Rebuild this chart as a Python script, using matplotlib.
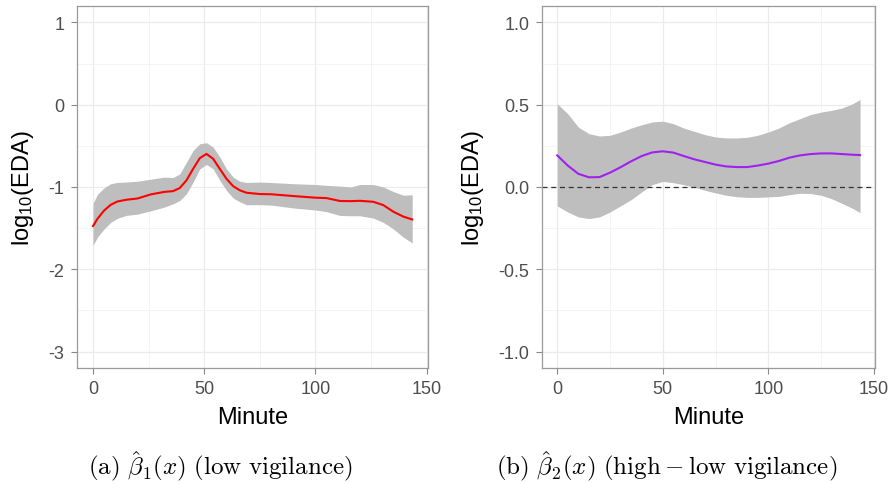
import matplotlib
matplotlib.use("Agg")
import matplotlib.pyplot as plt

plt.rcParams['font.family'] = ['Liberation Sans', 'DejaVu Sans']
plt.rcParams['mathtext.fontset'] = 'cm'

# beta1: low vigilance
minute_a = [0, 2, 5, 8, 11, 15, 20, 26, 32, 36, 39, 42, 45, 48, 51, 54, 57, 60, 63, 66, 69,
            75, 80, 90, 100, 105, 111, 116, 120, 126, 130.5, 135, 139.5, 143.5]
beta1 = [-1.475, -1.387, -1.286, -1.216, -1.176, -1.155, -1.14, -1.09, -1.06, -1.05, -1.013,
         -0.92, -0.78, -0.65, -0.598, -0.657, -0.78, -0.90, -0.99, -1.04, -1.07,
         -1.086, -1.088, -1.11, -1.13, -1.135, -1.17, -1.172, -1.168, -1.18, -1.22, -1.30,
         -1.36, -1.395]
beta1_hi = [-1.20, -1.09, -1.01, -0.96, -0.945, -0.94, -0.93, -0.905, -0.88, -0.885, -0.84,
            -0.70, -0.556, -0.475, -0.462, -0.515, -0.636, -0.78, -0.88, -0.93, -0.945,
            -0.94, -0.945, -0.96, -0.97, -0.98, -0.99, -1.0, -0.97, -0.97, -1.0, -1.055,
            -1.10, -1.095]
beta1_lo = [-1.71, -1.61, -1.51, -1.43, -1.38, -1.345, -1.33, -1.29, -1.245, -1.205, -1.164,
            -1.083, -0.94, -0.78, -0.726, -0.78, -0.92, -1.04, -1.135, -1.18, -1.216,
            -1.215, -1.22, -1.255, -1.28, -1.30, -1.346, -1.35, -1.35, -1.378, -1.43, -1.51,
            -1.61, -1.68]

# beta2: high - low vigilance
minute_b = [0, 5, 10, 15, 20, 25, 30, 35, 40, 45, 50, 55, 60, 65, 70, 75, 80, 85, 90,
            95, 100, 105, 110, 115, 120, 125, 130, 135, 140, 143.5]
beta2 = [0.192, 0.13, 0.08, 0.059, 0.06, 0.087, 0.12, 0.156, 0.188, 0.21, 0.217, 0.209,
         0.188, 0.168, 0.152, 0.136, 0.125, 0.121, 0.121, 0.13, 0.142, 0.158, 0.178, 0.192,
         0.20, 0.204, 0.204, 0.20, 0.196, 0.194]
beta2_hi = [0.506, 0.445, 0.364, 0.324, 0.31, 0.314, 0.334, 0.358, 0.378, 0.395, 0.40, 0.385,
            0.358, 0.338, 0.318, 0.304, 0.298, 0.298, 0.302, 0.314, 0.334, 0.358, 0.39, 0.415,
            0.44, 0.455, 0.466, 0.48, 0.506, 0.532]
beta2_lo = [-0.115, -0.152, -0.182, -0.192, -0.182, -0.152, -0.115, -0.077, -0.03, 0.014, 0.034, 0.026,
            0.014, -0.002, -0.02, -0.036, -0.05, -0.059, -0.063, -0.063, -0.06, -0.057, -0.047, -0.038,
            -0.04, -0.05, -0.071, -0.10, -0.13, -0.156]

xticks = [0, 50, 100, 150]
yticks1 = [1, 0, -1, -2, -3]
yticks2 = [1.0, 0.5, 0.0, -0.5, -1.0]


def style_panel(ax, ylim, yticks, ylabels):
    ax.set_xticks(xticks)
    ax.set_yticks(yticks)
    ax.set_yticklabels(ylabels)
    step = yticks[0] - yticks[1]
    ax.set_xticks([25, 75, 125], minor=True)
    ax.set_yticks([t + step / 2 for t in yticks[1:]], minor=True)
    ax.set_xlim(-7.2, 150.6)
    ax.set_ylim(*ylim)
    ax.grid(which='major', color='#EBEBEB', linewidth=0.9)
    ax.grid(which='minor', color='#F2F2F2', linewidth=0.6)
    ax.set_axisbelow(True)
    ax.tick_params(which='major', direction='out', length=4, color='#888888',
                   labelsize=13, labelcolor='#4D4D4D', pad=5)
    ax.tick_params(which='minor', length=0)
    for side in ax.spines.values():
        side.set_color('#999999')
        side.set_linewidth(0.9)
    ax.set_xlabel('Minute', fontsize=17, labelpad=6)
    ax.set_ylabel(r'$\mathregular{log_{10}(EDA)}$', fontsize=17, labelpad=9)


fig = plt.figure(figsize=(8.93, 4.85), dpi=100)
ax1 = fig.add_axes([0.0862, 0.2392, 0.3931, 0.7464])
ax2 = fig.add_axes([0.607, 0.2392, 0.3729, 0.7464])

ax1.fill_between(minute_a, beta1_lo, beta1_hi, color='#BEBEBE', linewidth=0)
ax1.plot(minute_a, beta1, color='#FF0000', linewidth=1.5)
style_panel(ax1, (-3.2, 1.2), yticks1, ['1', '0', '-1', '-2', '-3'])

ax2.fill_between(minute_b, beta2_lo, beta2_hi, color='#BEBEBE', linewidth=0)
ax2.axhline(0, color='#333333', linestyle=(0, (4, 3)), linewidth=0.9)
ax2.plot(minute_b, beta2, color='#A020F0', linewidth=1.5)
style_panel(ax2, (-1.1, 1.1), yticks2, ['1.0', '0.5', '0.0', '-0.5', '-1.0'])

fig.text(0.247, 0.037, r'$\mathrm{(a)}\ \hat{\beta}_1(x)\ \mathrm{(low\ vigilance)}$',
         ha='center', va='center', fontsize=18)
fig.text(0.747, 0.037, r'$\mathrm{(b)}\ \hat{\beta}_2(x)\ \mathrm{(high - low\ vigilance)}$',
         ha='center', va='center', fontsize=18)

fig.savefig('out.png', dpi=100)
